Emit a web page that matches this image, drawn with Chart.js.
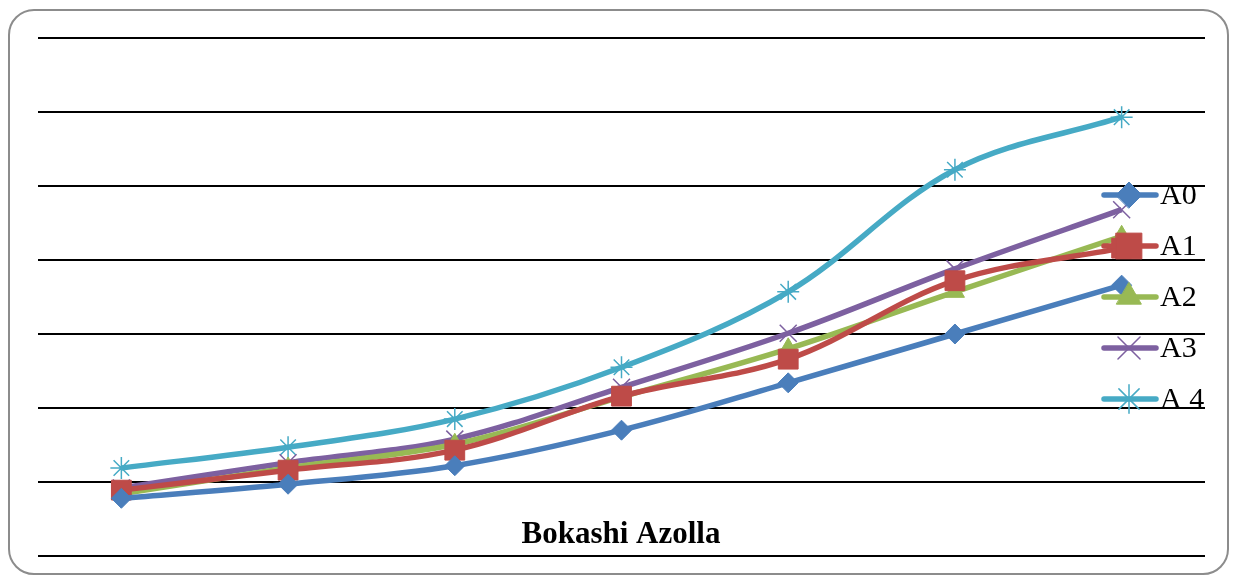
<!DOCTYPE html>
<html>
<head>
<meta charset="utf-8">
<script src="https://cdn.jsdelivr.net/npm/chart.js@4"></script>
<style>
    html, body { margin: 0; padding: 0; background: #fff; }
    #wrap { position: relative; width: 1233px; height: 581px; overflow: hidden; }
    #frame {
        position: absolute; left: 8px; top: 9px; width: 1221px; height: 566px;
        border: 2px solid #8c8c8c; border-radius: 26px; box-sizing: border-box;
    }
    canvas { position: absolute; left: 0; top: 0; }
</style>
</head>
<body>
<div id="wrap">
    <div id="frame"></div>
    <canvas id="chart" width="1233" height="581"></canvas>
</div>
<script>
const categories = ['1', '2', '3', '4', '5', '6', '7'];
const seriesNames = ['A0', 'A1', 'A2', 'A3', 'A 4'];
const a0 = [0.78, 0.97, 1.22, 1.70, 2.34, 3.00, 3.66];
const a1 = [0.89, 1.16, 1.43, 2.16, 2.66, 3.72, 4.16];
const a2 = [0.84, 1.19, 1.51, 2.15, 2.80, 3.57, 4.32];
const a3 = [0.92, 1.26, 1.58, 2.28, 3.01, 3.88, 4.68];
const a4 = [1.19, 1.47, 1.85, 2.55, 3.57, 5.22, 5.93];
const yTicks = [0, 1, 2, 3, 4, 5, 6, 7];
const axisTitle = 'Bokashi Azolla';

const colors = ['#4a7ebb', '#be4b48', '#98b954', '#7d60a0', '#46aac5'];
const styles = ['rectRot', 'rect', 'triangle', 'crossRot', 'star'];
const radii = [10, 14, 11, 12, 11];

// legend + axis title drawn on top of the plot, like the original
const overlay = {
    id: 'overlay',
    afterDraw(chart) {
        const ctx = chart.ctx;
        ctx.save();
        ctx.fillStyle = '#000';
        ctx.font = 'bold 31px "Liberation Serif", "Times New Roman", serif';
        ctx.textAlign = 'center';
        ctx.textBaseline = 'middle';
        ctx.fillText(axisTitle, 621, 535);

        ctx.font = '30px "Liberation Serif", "Times New Roman", serif';
        ctx.textAlign = 'left';
        chart.data.datasets.forEach((ds, i) => {
            const y = 195 + i * 51;
            ctx.strokeStyle = ds.borderColor;
            ctx.lineWidth = 5.5;
            ctx.lineCap = 'round';
            ctx.beginPath();
            ctx.moveTo(1104, y);
            ctx.lineTo(1156, y);
            ctx.stroke();
            ctx.fillStyle = ds.pointBackgroundColor;
            ctx.strokeStyle = ds.pointBorderColor;
            ctx.lineWidth = ds.pointBorderWidth;
            Chart.helpers.drawPoint(ctx, {
                pointStyle: ds.pointStyle,
                radius: ds.pointRadius * 1.3,
                rotation: 0,
                borderWidth: ds.pointBorderWidth
            }, 1129, y);
            ctx.fillStyle = '#000';
            ctx.fillText(ds.label, 1160, y + 1);
        });
        ctx.restore();
    }
};

const values = [a0, a1, a2, a3, a4];

new Chart(document.getElementById('chart'), {
    type: 'line',
    data: {
        labels: categories,
        datasets: seriesNames.map((name, i) => ({
            label: name,
            data: values[i],
            borderColor: colors[i],
            backgroundColor: colors[i],
            pointBackgroundColor: colors[i],
            pointBorderColor: colors[i],
            pointBorderWidth: (styles[i] === 'crossRot' || styles[i] === 'star') ? 1.5 : 1,
            pointStyle: styles[i],
            pointRadius: radii[i],
            borderWidth: 5.5,
            tension: 0.35,
            fill: false
        }))
    },
    options: {
        responsive: false,
        animation: false,
        layout: { padding: { left: 38, right: 28, top: 38, bottom: 17 } },
        plugins: {
            legend: { display: false },
            tooltip: { enabled: false }
        },
        scales: {
            x: {
                offset: true,
                ticks: { display: false },
                grid: { display: false },
                border: { display: false }
            },
            y: {
                min: yTicks[0],
                max: yTicks[yTicks.length - 1],
                afterBuildTicks: axis => { axis.ticks = yTicks.map(v => ({ value: v })); },
                ticks: { display: false },
                grid: { color: '#000', lineWidth: 2, drawTicks: false },
                border: { display: false }
            }
        }
    },
    plugins: [overlay]
});
</script>
</body>
</html>
